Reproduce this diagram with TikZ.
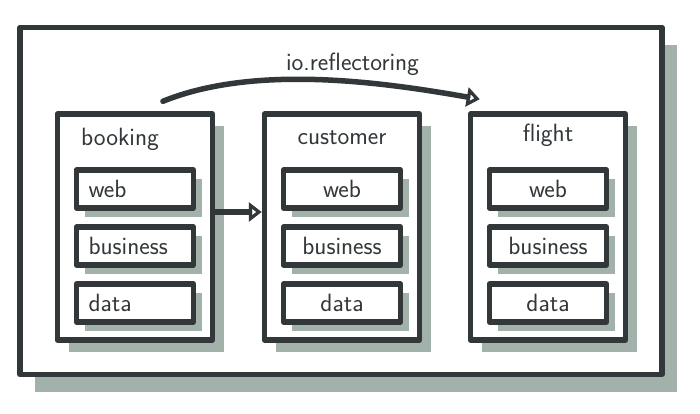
\documentclass[tikz,border=0pt]{standalone}
\usepackage{tikz}
\usetikzlibrary{positioning,shadows,arrows.meta}
\definecolor{ink}{RGB}{50,55,58}
\definecolor{shade}{RGB}{163,177,171}

\begin{document}
\begin{tikzpicture}[x=1pt,y=1pt,node distance=2cm,on grid,auto,
    font=\sffamily\fontsize{25}{28}\selectfont,
    box/.style={draw=ink,text=ink,line width=5.5pt,fill=white,line join=round},
    frame/.style={box,minimum width=642pt,minimum height=347pt,
      drop shadow={shadow xshift=15pt,shadow yshift=-18pt,fill=shade,opacity=1}},
    module/.style={box,minimum width=155pt,minimum height=226pt,
      drop shadow={shadow xshift=11pt,shadow yshift=-12pt,fill=shade,opacity=1}},
    layer/.style={box,text width=93pt,inner xsep=12pt,inner ysep=4pt,minimum height=38pt,align=center,
      drop shadow={shadow xshift=8pt,shadow yshift=-9pt,fill=shade,opacity=1}},
    title/.style={text=ink,inner sep=0pt},
    arr/.style={draw=ink,text=ink,line width=5.5pt,line cap=round,
      -{Triangle[open,length=13pt,width=19pt]}}]
    \useasboundingbox (0,0) rectangle (700,414);
    \node[frame] (frame) at (341,213) {};
    \node[module] (booking) at (135,187) {};
    \node[module] (customer) [right=207pt of booking] {};
    \node[module] (flight) [right=206pt of customer] {};
    \node[title] (b_t) [above left=88pt and 15pt of booking] {booking};
    \node[title] (c_t) [above=89pt of customer] {customer};
    \node[title] (f_t) [above=92pt of flight] {flight};
    \node[layer, align=left] (b_web) [above=38pt of booking] {web};
    \node[layer, align=left] (b_bus) [below=57pt of b_web] {business};
    \node[layer, align=left] (b_data) [below=57pt of b_bus] {data};
    \node[layer] (c_web) [above=38pt of customer] {web};
    \node[layer] (c_bus) [below=57pt of c_web] {business};
    \node[layer] (c_data) [below=57pt of c_bus] {data};
    \node[layer] (f_web) [above=38pt of flight] {web};
    \node[layer] (f_bus) [below=57pt of f_web] {business};
    \node[layer] (f_data) [below=57pt of f_bus] {data};
    \draw[arr] ([yshift=15pt]booking.east) -- ([yshift=15pt]customer.west);
    \draw[arr] ([shift={(28pt,10pt)}]booking.north) to [out=22,in=170,looseness=0.8]
          node [pos=0.6, above=0pt] {io.reflectoring}
          ([shift={(12pt,12pt)}]flight.north west);
\end{tikzpicture}
\end{document}
